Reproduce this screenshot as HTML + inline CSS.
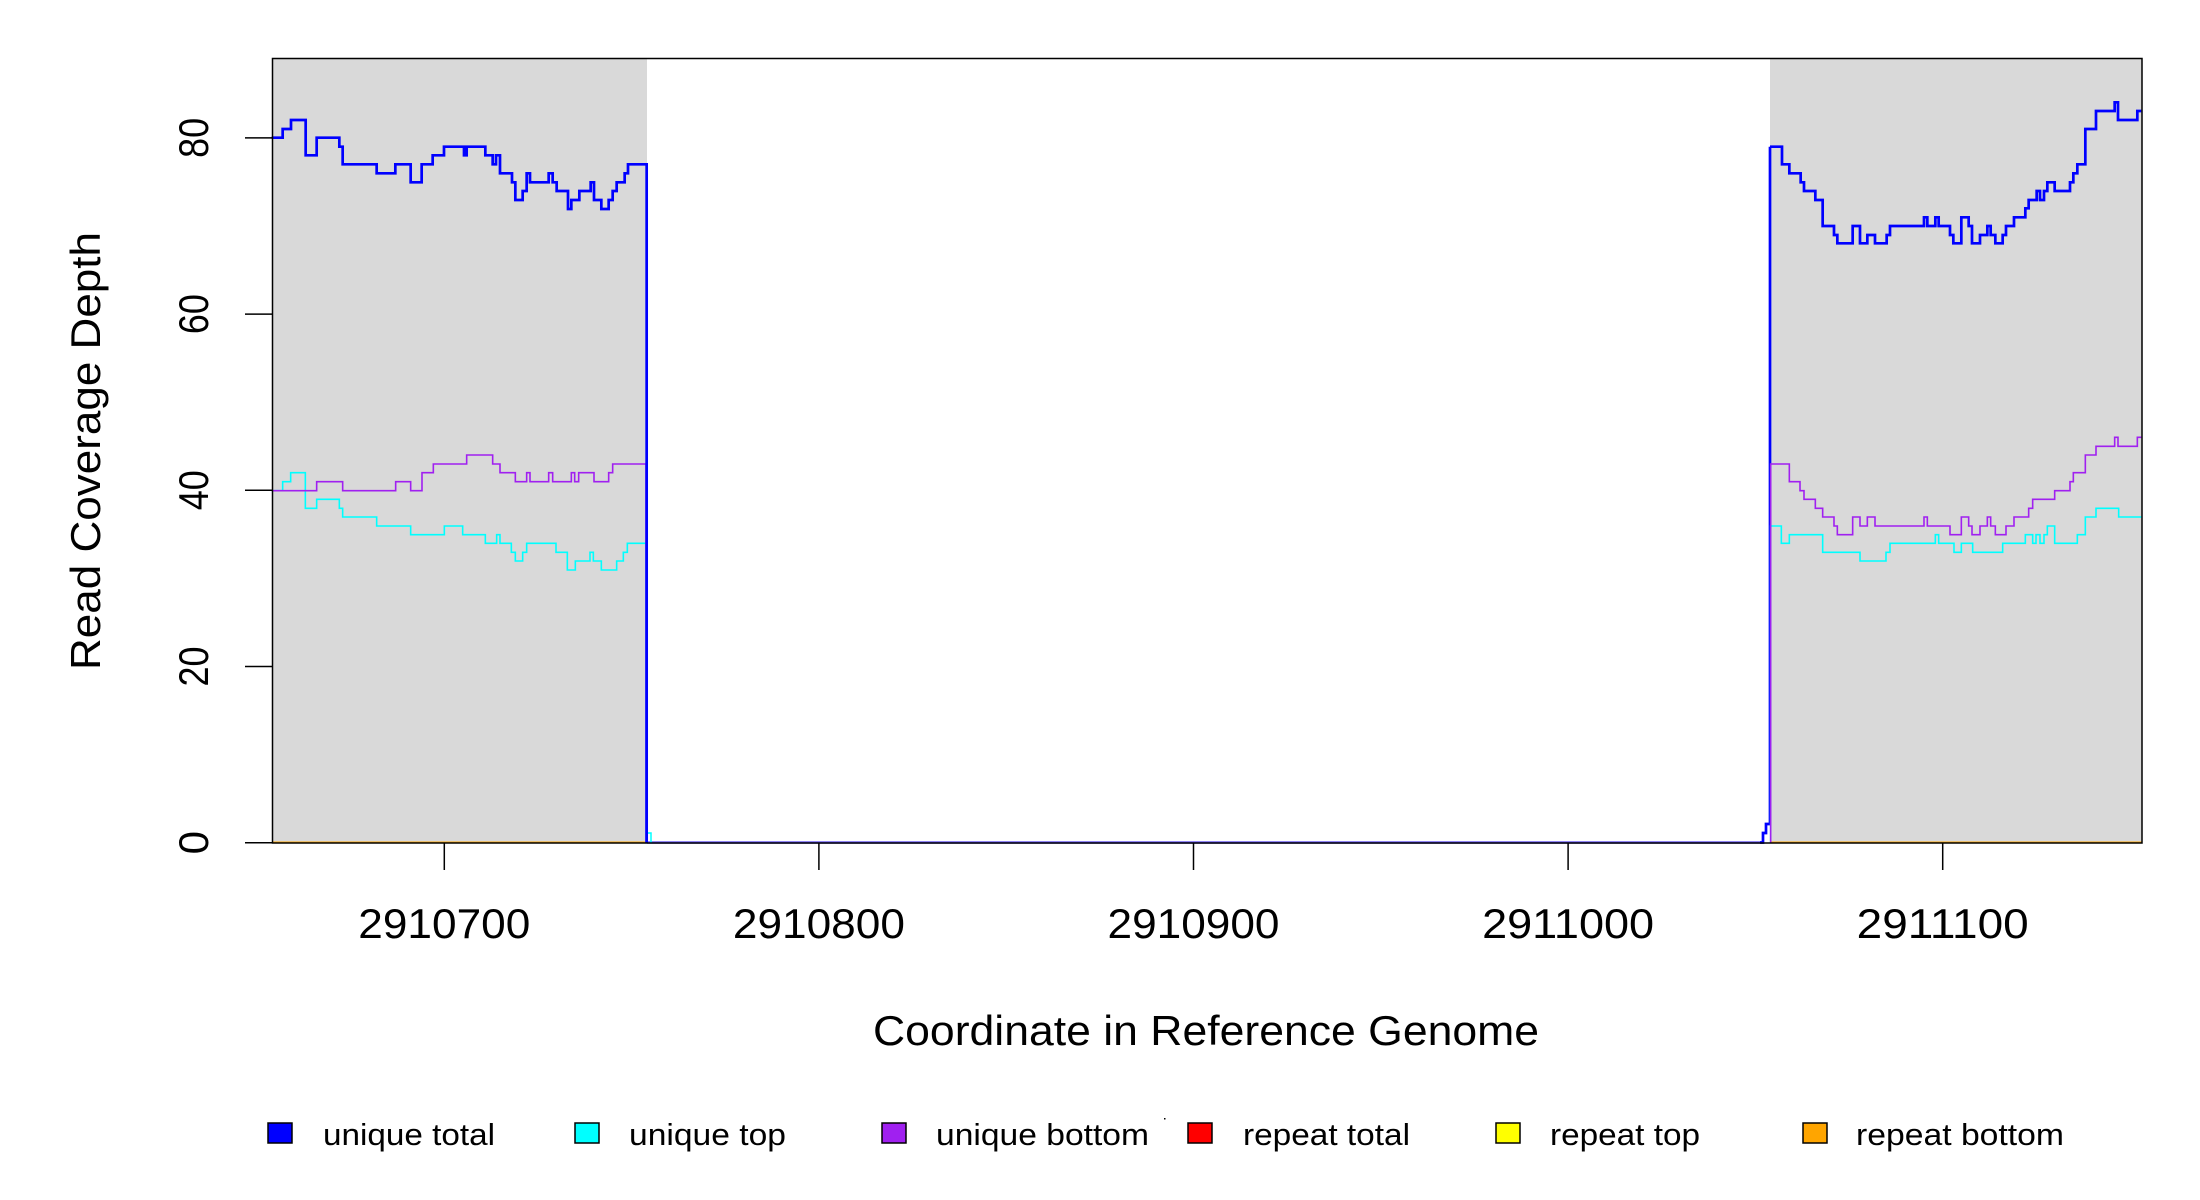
<!DOCTYPE html>
<html><head><meta charset="utf-8"><style>html,body{margin:0;padding:0;background:#fff}svg{display:block}</style></head>
<body>
<svg width="2200" height="1200" viewBox="0 0 2200 1200" xmlns="http://www.w3.org/2000/svg" font-family="Liberation Sans, sans-serif">
<rect x="0" y="0" width="2200" height="1200" fill="#fff"/>
<rect x="272" y="58" width="375" height="785" fill="#d9d9d9"/>
<rect x="1770" y="58" width="372" height="785" fill="#d9d9d9"/>

<g fill="none" stroke-linejoin="miter">
<path d="M272,842.5 L647,842.5 M1770,842.5 L2142,842.5" stroke="#ffa500" stroke-width="2"/>
<path d="M647,842.5 L1763,842.5" stroke="#6a5af0" stroke-width="2.5"/>
<path d="M647,842.5 L647,833 L651,833 L651,842.5" stroke="#00ffff" stroke-width="1.5"/>
<path d="M1760,842.5 L1763,842.5 L1763,833 L1766,833 L1766,824 L1770,824 L1770,146.7" stroke="#0000ff" stroke-width="2.7"/>

<g transform="translate(260,440) scale(0.333333)">
<path vector-effect="non-scaling-stroke" stroke="#00ffff" stroke-width="1.6" d="M35,152 L68,152 L68,125 L92,125 L92,98 L136,98 L136,205 L170,205 L170,178 L238,178 L238,205 L248,205 L248,231 L350,231 L350,258 L452,258 L452,284 L553,284 L553,258 L608,258 L608,284 L676,284 L676,310 L710,310 L710,284 L720,284 L720,310 L754,310 L754,337 L766,337 L766,363 L788,363 L788,337 L800,337 L800,310 L888,310 L888,337 L922,337 L922,390 L946,390 L946,363 L990,363 L990,337 L1000,337 L1000,363 L1024,363 L1024,390 L1070,390 L1070,363 L1090,363 L1090,337 L1102,337 L1102,310 L1158,310 L1158,1208"/>
<path vector-effect="non-scaling-stroke" stroke="#a020f0" stroke-width="1.6" d="M35,152 L170,152 L170,125 L248,125 L248,152 L407,152 L407,125 L452,125 L452,152 L486,152 L486,98 L520,98 L520,72 L620,72 L620,45 L698,45 L698,72 L720,72 L720,98 L766,98 L766,125 L800,125 L800,98 L810,98 L810,125 L866,125 L866,98 L878,98 L878,125 L934,125 L934,98 L944,98 L944,125 L956,125 L956,98 L1002,98 L1002,125 L1046,125 L1046,98 L1058,98 L1058,72 L1158,72 L1158,1208"/>
</g>
<g transform="translate(180,40) scale(0.333333)">
<path vector-effect="non-scaling-stroke" stroke="#0000ff" stroke-width="2.7" d="M275,293 L308,293 L308,267 L333,267 L333,240 L377,240 L377,346 L410,346 L410,293 L478,293 L478,320 L488,320 L488,373 L590,373 L590,400 L646,400 L646,373 L692,373 L692,427 L725,427 L725,373 L758,373 L758,346 L792,346 L792,320 L852,320 L852,346 L860,346 L860,320 L916,320 L916,346 L938,346 L938,373 L948,373 L948,346 L960,346 L960,400 L996,400 L996,427 L1006,427 L1006,480 L1028,480 L1028,453 L1040,453 L1040,400 L1050,400 L1050,427 L1106,427 L1106,400 L1118,400 L1118,427 L1130,427 L1130,453 L1164,453 L1164,507 L1174,507 L1174,480 L1198,480 L1198,453 L1232,453 L1232,427 L1242,427 L1242,480 L1264,480 L1264,507 L1286,507 L1286,480 L1298,480 L1298,453 L1310,453 L1310,427 L1334,427 L1334,400 L1344,400 L1344,373 L1400,373 L1400,2408"/>
</g>
<g transform="translate(1760,420) scale(0.333333)">
<path vector-effect="non-scaling-stroke" stroke="#00ffff" stroke-width="1.6" d="M32,1268 L32,318 L64,318 L64,370 L88,370 L88,344 L188,344 L188,397 L300,397 L300,423 L378,423 L378,397 L390,397 L390,370 L526,370 L526,344 L536,344 L536,370 L582,370 L582,397 L604,397 L604,370 L638,370 L638,397 L728,397 L728,370 L796,370 L796,344 L818,344 L818,370 L828,370 L828,344 L840,344 L840,370 L852,370 L852,344 L862,344 L862,318 L884,318 L884,370 L952,370 L952,344 L976,344 L976,291 L1008,291 L1008,265 L1076,265 L1076,291 L1144,291"/>
<path vector-effect="non-scaling-stroke" stroke="#a020f0" stroke-width="1.6" d="M32,1268 L32,132 L88,132 L88,185 L120,185 L120,212 L132,212 L132,238 L166,238 L166,265 L188,265 L188,291 L222,291 L222,318 L232,318 L232,344 L278,344 L278,291 L300,291 L300,318 L322,318 L322,291 L345,291 L345,318 L492,318 L492,291 L502,291 L502,318 L570,318 L570,344 L604,344 L604,291 L626,291 L626,318 L636,318 L636,344 L660,344 L660,318 L682,318 L682,291 L692,291 L692,318 L706,318 L706,344 L738,344 L738,318 L762,318 L762,291 L806,291 L806,265 L818,265 L818,238 L884,238 L884,212 L930,212 L930,185 L940,185 L940,158 L976,158 L976,105 L1008,105 L1008,79 L1064,79 L1064,52 L1074,52 L1074,79 L1132,79 L1132,52 L1144,52"/>
</g>
<g transform="translate(1760,40) scale(0.333333)">
<path vector-effect="non-scaling-stroke" stroke="#0000ff" stroke-width="2.7" d="M30,320 L66,320 L66,373 L88,373 L88,400 L122,400 L122,427 L132,427 L132,453 L166,453 L166,480 L188,480 L188,558 L222,558 L222,585 L232,585 L232,610 L278,610 L278,558 L300,558 L300,610 L322,610 L322,585 L345,585 L345,610 L380,610 L380,585 L390,585 L390,558 L492,558 L492,532 L502,532 L502,558 L526,558 L526,532 L536,532 L536,558 L570,558 L570,585 L580,585 L580,610 L604,610 L604,532 L626,532 L626,558 L636,558 L636,610 L660,610 L660,585 L682,585 L682,558 L692,558 L692,585 L706,585 L706,610 L728,610 L728,585 L738,585 L738,558 L762,558 L762,532 L796,532 L796,505 L806,505 L806,480 L830,480 L830,453 L840,453 L840,480 L852,480 L852,453 L862,453 L862,427 L884,427 L884,453 L930,453 L930,427 L940,427 L940,400 L952,400 L952,373 L976,373 L976,267 L1008,267 L1008,213 L1064,213 L1064,187 L1074,187 L1074,240 L1132,240 L1132,213 L1144,213"/>
</g>
</g>

<rect x="272.5" y="58.5" width="1869.5" height="784.5" fill="none" stroke="#000" stroke-width="1.5"/>

<g stroke="#000" stroke-width="1.5">
<line x1="245" y1="842.7" x2="272" y2="842.7"/>
<line x1="245" y1="666.5" x2="272" y2="666.5"/>
<line x1="245" y1="490.3" x2="272" y2="490.3"/>
<line x1="245" y1="314.1" x2="272" y2="314.1"/>
<line x1="245" y1="137.9" x2="272" y2="137.9"/>
<line x1="444.3" y1="843" x2="444.3" y2="870"/>
<line x1="818.9" y1="843" x2="818.9" y2="870"/>
<line x1="1193.5" y1="843" x2="1193.5" y2="870"/>
<line x1="1568.1" y1="843" x2="1568.1" y2="870"/>
<line x1="1942.7" y1="843" x2="1942.7" y2="870"/>
</g>
<g font-size="42" fill="#000" text-anchor="middle">
<text transform="translate(208,842.7) rotate(-90)">0</text>
<text transform="translate(208,666.5) rotate(-90)" textLength="40" lengthAdjust="spacingAndGlyphs">20</text>
<text transform="translate(208,490.3) rotate(-90)" textLength="40" lengthAdjust="spacingAndGlyphs">40</text>
<text transform="translate(208,314.1) rotate(-90)" textLength="40" lengthAdjust="spacingAndGlyphs">60</text>
<text transform="translate(208,137.9) rotate(-90)" textLength="40" lengthAdjust="spacingAndGlyphs">80</text>
<text x="444.3" y="938" textLength="172" lengthAdjust="spacingAndGlyphs">2910700</text>
<text x="818.9" y="938" textLength="172" lengthAdjust="spacingAndGlyphs">2910800</text>
<text x="1193.5" y="938" textLength="172" lengthAdjust="spacingAndGlyphs">2910900</text>
<text x="1568.1" y="938" textLength="172" lengthAdjust="spacingAndGlyphs">2911000</text>
<text x="1942.7" y="938" textLength="172" lengthAdjust="spacingAndGlyphs">2911100</text>
<text x="1206" y="1045" textLength="666" lengthAdjust="spacingAndGlyphs">Coordinate in Reference Genome</text>
<text transform="translate(100,451) rotate(-90)" textLength="438" lengthAdjust="spacingAndGlyphs">Read Coverage Depth</text>
</g>

<g stroke="#000" stroke-width="1.5">
<rect x="268" y="1123" width="24" height="20" fill="#0000ff"/>
<rect x="575" y="1123" width="24" height="20" fill="#00ffff"/>
<rect x="882" y="1123" width="24" height="20" fill="#a020f0"/>
<rect x="1188" y="1123" width="24" height="20" fill="#ff0000"/>
<rect x="1496" y="1123" width="24" height="20" fill="#ffff00"/>
<rect x="1803" y="1123" width="24" height="20" fill="#ffa500"/>
</g>
<g font-size="31" fill="#000">
<text x="323" y="1145" textLength="172" lengthAdjust="spacingAndGlyphs">unique total</text>
<text x="629" y="1145" textLength="157" lengthAdjust="spacingAndGlyphs">unique top</text>
<text x="936" y="1145" textLength="213" lengthAdjust="spacingAndGlyphs">unique bottom</text>
<text x="1243" y="1145" textLength="167" lengthAdjust="spacingAndGlyphs">repeat total</text>
<text x="1550" y="1145" textLength="150" lengthAdjust="spacingAndGlyphs">repeat top</text>
<text x="1856" y="1145" textLength="208" lengthAdjust="spacingAndGlyphs">repeat bottom</text>
</g>
<rect x="1164" y="1118" width="1.5" height="1.5" fill="#000"/>
</svg>
</body></html>
